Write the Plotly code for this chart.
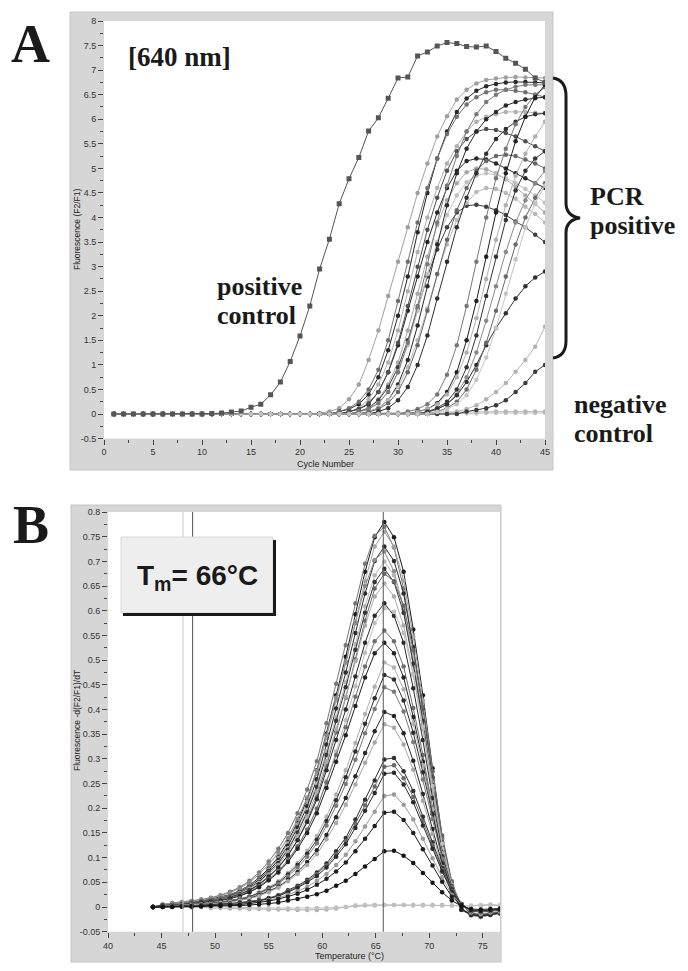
import plotly.graph_objects as go

W, H = 688, 971


def px(x):
    return x / W


def py(y):
    return 1 - y / H


# ---------------- Panel A: amplification curves (640 nm) ----------------
cycles = list(range(1, 46))

pos_control = [0, 0, 0, 0, 0, 0, 0, 0, 0, 0,
               0.01, 0.02, 0.04, 0.06, 0.14, 0.20, 0.39, 0.65, 1.07, 1.59,
               2.20, 2.95, 3.56, 4.28, 4.79, 5.22, 5.76, 6.03, 6.43, 6.84,
               6.86, 7.29, 7.37, 7.49, 7.56, 7.54, 7.48, 7.47, 7.49, 7.38,
               7.24, 7.14, 7.02, 6.84, 6.75]

a_e1 = [0, 0, 0, 0, 0, 0, 0, 0, 0, 0, 0, 0, 0, 0, 0, 0, 0, 0, 0, 0, 0,
        .02, .05, .12, .3, .6, 1.1, 1.7, 2.4, 3.1, 3.8, 4.5, 5.1, 5.65, 6.06, 6.4, 6.6, 6.73, 6.8, 6.83, 6.85, 6.86, 6.85, 6.85, 6.84]
a_e2 = [0, 0, 0, 0, 0, 0, 0, 0, 0, 0, 0, 0, 0, 0, 0, 0, 0, 0, 0, 0, 0, 0, 0,
        .05, .1, .2, .4, .75, 1.3, 2.0, 2.8, 3.7, 4.5, 5.2, 5.75, 6.15, 6.42, 6.58, 6.67, 6.72, 6.75, 6.76, 6.76, 6.75, 6.74]
a_e3 = [0, 0, 0, 0, 0, 0, 0, 0, 0, 0, 0, 0, 0, 0, 0, 0, 0, 0, 0, 0, 0, 0, 0,
        .05, .12, .25, .5, .9, 1.5, 2.3, 3.1, 3.9, 4.6, 5.2, 5.7, 6.05, 6.3, 6.45, 6.55, 6.6, 6.6, 6.58, 6.55, 6.5, 6.45]
a_e4 = [0, 0, 0, 0, 0, 0, 0, 0, 0, 0, 0, 0, 0, 0, 0, 0, 0, 0, 0, 0, 0, 0, 0, 0,
        .05, .12, .3, .6, 1.05, 1.7, 2.5, 3.3, 4.0, 4.6, 5.1, 5.45, 5.75, 5.95, 6.05, 6.1, 6.15, 6.15, 6.15, 6.13, 6.12]
a_e5 = [0, 0, 0, 0, 0, 0, 0, 0, 0, 0, 0, 0, 0, 0, 0, 0, 0, 0, 0, 0, 0, 0, 0, 0,
        .05, .1, .2, .45, .85, 1.4, 2.1, 2.8, 3.5, 4.1, 4.6, 4.95, 5.15, 5.2, 5.18, 5.1, 5.0, 4.9, 4.8, 4.7, 4.6]
a_e6 = [0, 0, 0, 0, 0, 0, 0, 0, 0, 0, 0, 0, 0, 0, 0, 0, 0, 0, 0, 0, 0, 0, 0, 0,
        .05, .1, .22, .45, .85, 1.45, 2.2, 3.0, 3.75, 4.4, 4.95, 5.35, 5.6, 5.75, 5.8, 5.78, 5.72, 5.65, 5.55, 5.45, 5.35]
a_e7 = [0, 0, 0, 0, 0, 0, 0, 0, 0, 0, 0, 0, 0, 0, 0, 0, 0, 0, 0, 0, 0, 0, 0, 0, 0,
        .05, .12, .3, .6, 1.05, 1.7, 2.45, 3.2, 3.85, 4.35, 4.7, 4.92, 5.0, 4.98, 4.9, 4.78, 4.62, 4.45, 4.28, 4.1]
a_e8 = [0, 0, 0, 0, 0, 0, 0, 0, 0, 0, 0, 0, 0, 0, 0, 0, 0, 0, 0, 0, 0, 0, 0, 0, 0,
        .05, .12, .28, .55, .95, 1.5, 2.15, 2.8, 3.35, 3.8, 4.1, 4.24, 4.26, 4.22, 4.15, 4.05, 3.92, 3.8, 3.65, 3.5]
a_e9 = [0, 0, 0, 0, 0, 0, 0, 0, 0, 0, 0, 0, 0, 0, 0, 0, 0, 0, 0, 0, 0, 0, 0, 0, 0,
        .04, .1, .22, .45, .85, 1.4, 2.1, 2.85, 3.5, 4.05, 4.45, 4.72, 4.85, 4.9, 4.87, 4.8, 4.7, 4.58, 4.45, 4.3]
a_e10 = [0, 0, 0, 0, 0, 0, 0, 0, 0, 0, 0, 0, 0, 0, 0, 0, 0, 0, 0, 0, 0, 0, 0, 0, 0,
         .05, .1, .22, .45, .85, 1.45, 2.2, 3.05, 3.9, 4.65, 5.25, 5.75, 6.1, 6.35, 6.5, 6.6, 6.66, 6.7, 6.7, 6.7]
a_e11 = [0, 0, 0, 0, 0, 0, 0, 0, 0, 0, 0, 0, 0, 0, 0, 0, 0, 0, 0, 0, 0, 0, 0, 0, 0, 0,
         .05, .12, .28, .6, 1.1, 1.8, 2.6, 3.45, 4.25, 4.9, 5.4, 5.75, 6.0, 6.15, 6.28, 6.35, 6.4, 6.43, 6.45]
a_e12 = [0, 0, 0, 0, 0, 0, 0, 0, 0, 0, 0, 0, 0, 0, 0, 0, 0, 0, 0, 0, 0, 0, 0, 0, 0, 0,
         .05, .12, .28, .55, .95, 1.5, 2.15, 2.85, 3.45, 3.95, 4.3, 4.52, 4.6, 4.58, 4.5, 4.38, 4.22, 4.07, 3.9]
a_e13 = [0, 0, 0, 0, 0, 0, 0, 0, 0, 0, 0, 0, 0, 0, 0, 0, 0, 0, 0, 0, 0, 0, 0, 0, 0, 0,
         .04, .1, .22, .45, .85, 1.4, 2.1, 2.85, 3.55, 4.15, 4.6, 4.95, 5.15, 5.25, 5.28, 5.25, 5.18, 5.1, 5.0]
a_e14 = [0, 0, 0, 0, 0, 0, 0, 0, 0, 0, 0, 0, 0, 0, 0, 0, 0, 0, 0, 0, 0, 0, 0, 0, 0, 0, 0,
         .05, .12, .28, .55, 1.0, 1.6, 2.35, 3.1, 3.8, 4.4, 4.9, 5.3, 5.6, 5.8, 5.95, 6.05, 6.1, 6.12]
a_l1 = [0, 0, 0, 0, 0, 0, 0, 0, 0, 0, 0, 0, 0, 0, 0, 0, 0, 0, 0, 0, 0, 0, 0, 0, 0, 0, 0, 0, 0, 0,
        .05, .1, .2, .4, .8, 1.4, 2.2, 3.1, 4.0, 4.8, 5.4, 5.9, 6.25, 6.5, 6.65]
a_l2 = [0, 0, 0, 0, 0, 0, 0, 0, 0, 0, 0, 0, 0, 0, 0, 0, 0, 0, 0, 0, 0, 0, 0, 0, 0, 0, 0, 0, 0, 0, 0,
        .05, .1, .22, .45, .85, 1.5, 2.3, 3.2, 4.1, 4.9, 5.55, 6.05, 6.45, 6.7]
a_l3 = [0, 0, 0, 0, 0, 0, 0, 0, 0, 0, 0, 0, 0, 0, 0, 0, 0, 0, 0, 0, 0, 0, 0, 0, 0, 0, 0, 0, 0, 0, 0,
        .04, .1, .2, .4, .75, 1.25, 1.95, 2.75, 3.55, 4.25, 4.85, 5.3, 5.65, 5.95]
a_l4 = [0, 0, 0, 0, 0, 0, 0, 0, 0, 0, 0, 0, 0, 0, 0, 0, 0, 0, 0, 0, 0, 0, 0, 0, 0, 0, 0, 0, 0, 0, 0, 0,
        .05, .12, .25, .5, .95, 1.6, 2.4, 3.2, 3.95, 4.55, 4.95, 5.2, 5.35]
a_l5 = [0, 0, 0, 0, 0, 0, 0, 0, 0, 0, 0, 0, 0, 0, 0, 0, 0, 0, 0, 0, 0, 0, 0, 0, 0, 0, 0, 0, 0, 0, 0, 0,
        .05, .1, .2, .4, .75, 1.25, 1.9, 2.6, 3.3, 3.9, 4.35, 4.7, 4.95]
a_l6 = [0, 0, 0, 0, 0, 0, 0, 0, 0, 0, 0, 0, 0, 0, 0, 0, 0, 0, 0, 0, 0, 0, 0, 0, 0, 0, 0, 0, 0, 0, 0, 0,
        .04, .1, .2, .38, .65, 1.0, 1.4, 1.75, 2.05, 2.35, 2.6, 2.78, 2.9]
a_l7 = [0, 0, 0, 0, 0, 0, 0, 0, 0, 0, 0, 0, 0, 0, 0, 0, 0, 0, 0, 0, 0, 0, 0, 0, 0, 0, 0, 0, 0, 0, 0, 0, 0, 0, 0,
        .05, .1, .18, .3, .45, .63, .86, 1.1, 1.37, 1.78]
a_l8 = [0, 0, 0, 0, 0, 0, 0, 0, 0, 0, 0, 0, 0, 0, 0, 0, 0, 0, 0, 0, 0, 0, 0, 0, 0, 0, 0, 0, 0, 0, 0, 0, 0, 0, 0, 0,
        .05, .08, .12, .18, .28, .45, .63, .86, 1.0]
a_l9 = [0, 0, 0, 0, 0, 0, 0, 0, 0, 0, 0, 0, 0, 0, 0, 0, 0, 0, 0, 0, 0, 0, 0, 0, 0, 0, 0, 0, 0, 0, 0, 0, 0,
        .05, .12, .25, .5, .9, 1.45, 2.1, 2.8, 3.45, 4.0, 4.4, 4.7]
a_l10 = [0, 0, 0, 0, 0, 0, 0, 0, 0, 0, 0, 0, 0, 0, 0, 0, 0, 0, 0, 0, 0, 0, 0, 0, 0, 0, 0, 0, 0, 0, 0, 0, 0,
         .04, .1, .2, .38, .7, 1.15, 1.75, 2.45, 3.15, 3.8, 4.3, 4.65]
a_neg1 = [0, 0, 0, 0, 0, 0, 0, 0, 0, 0, 0, 0, 0, 0, 0, 0, 0, 0, 0, 0, 0, 0, 0, 0, 0,
          .01, .02, .02, .02, .03, .03, .03, .03, .04, .04, .04, .04, .04, .05, .05, .05, .05, .05, .05, .05]
a_neg2 = [0, 0, 0, 0, 0, 0, 0, 0, 0, 0, 0, 0, 0, 0, 0, 0, 0, 0, 0, 0, 0, 0, 0, 0, 0, 0, 0, 0, 0, 0,
          .01, .01, .01, .01, .01, .01, .01, .01, .02, .02, .02, .02, .02, .02, .02]

a_ticks_x = [0, 5, 10, 15, 20, 25, 30, 35, 40, 45]
a_minor_x = [2.5, 7.5, 12.5, 17.5, 22.5, 27.5, 32.5, 37.5, 42.5]
a_ticks_y = [-0.5, 0, 0.5, 1, 1.5, 2, 2.5, 3, 3.5, 4, 4.5, 5, 5.5, 6, 6.5, 7, 7.5, 8]
a_ticktext_y = ["-0.5", "0", "0.5", "1", "1.5", "2", "2.5", "3", "3.5", "4", "4.5", "5",
                "5.5", "6", "6.5", "7", "7.5", "8"]
a_minor_y = [-0.25, 0.25, 0.75, 1.25, 1.75, 2.25, 2.75, 3.25, 3.75, 4.25, 4.75, 5.25,
             5.75, 6.25, 6.75, 7.25, 7.75]

# ---------------- Panel B: melting curves ----------------
temps = [44.2, 45.1, 46.0, 46.9, 47.8, 48.7, 49.6, 50.5, 51.4, 52.3, 53.2, 54.1, 55.0,
         55.9, 56.8, 57.7, 58.6, 59.5, 60.4, 61.3, 62.2, 63.1, 64.0, 64.9, 65.8, 66.7,
         67.6, 68.5, 69.4, 70.3, 71.2, 72.1, 73.0, 73.9, 74.8, 75.7, 76.6]

b_1 = [0, .004, .006, .008, .010, .012, .016, .020, .025, .033, .044, .059, .078, .101, .133, .172, .218, .277, .351, .429,
       .507, .593, .679, .749, .780, .749, .679, .562, .429, .281, .140, .047, -.005, -.015, -.018, -.015, -.012]
b_2 = [0, .005, .008, .010, .012, .015, .019, .024, .031, .040, .053, .070, .092, .118, .150, .190, .238, .295, .372, .452,
       .530, .615, .695, .752, .770, .728, .645, .525, .395, .255, .125, .040, -.006, -.016, -.02, -.016, -.013]
b_3 = [0, .004, .006, .008, .010, .012, .015, .019, .024, .032, .043, .057, .076, .099, .129, .167, .213, .270, .342, .418,
       .494, .578, .661, .730, .760, .730, .661, .547, .418, .274, .137, .046, -.004, -.014, -.017, -.014, -.011]
b_4 = [0, .004, .006, .007, .009, .012, .015, .018, .023, .031, .041, .055, .073, .095, .124, .161, .204, .259, .329, .402,
       .475, .555, .635, .701, .730, .701, .635, .526, .402, .263, .131, .044, -.005, -.016, -.018, -.015, -.012]
b_5 = [0, .005, .008, .010, .012, .015, .018, .023, .029, .038, .050, .066, .086, .110, .140, .178, .222, .276, .348, .424,
       .497, .575, .650, .703, .720, .680, .603, .490, .370, .238, .117, .038, -.006, -.017, -.02, -.016, -.013]
b_6 = [0, .004, .006, .007, .009, .011, .014, .018, .022, .029, .039, .053, .070, .091, .119, .154, .196, .249, .315, .385,
       .455, .532, .609, .672, .700, .672, .609, .504, .385, .252, .126, .042, -.004, -.014, -.017, -.014, -.011]
b_7 = [0, .003, .005, .007, .009, .011, .014, .017, .022, .029, .038, .051, .069, .089, .116, .151, .192, .243, .308, .377,
       .445, .521, .596, .658, .685, .658, .596, .493, .377, .247, .123, .041, -.005, -.015, -.018, -.015, -.012]
b_8 = [0, .003, .005, .006, .008, .010, .012, .015, .019, .025, .033, .045, .060, .079, .104, .136, .175, .224, .286, .354,
       .424, .502, .580, .645, .675, .660, .610, .520, .405, .275, .145, .052, -.003, -.014, -.018, -.015, -.012]
b_9 = [0, .003, .005, .007, .009, .010, .013, .016, .021, .028, .037, .049, .066, .085, .111, .144, .183, .233, .295, .360,
       .426, .498, .570, .629, .655, .629, .570, .472, .360, .236, .118, .039, -.004, -.014, -.017, -.014, -.011]
b_10 = [0, .003, .005, .006, .008, .010, .012, .015, .020, .026, .034, .046, .062, .080, .105, .135, .172, .218, .277, .338,
        .400, .467, .535, .590, .615, .590, .535, .443, .338, .221, .111, .037, -.005, -.015, -.018, -.015, -.012]
b_11 = [0, .003, .005, .006, .007, .009, .011, .014, .018, .023, .030, .040, .054, .071, .093, .121, .156, .200, .255, .315,
        .378, .447, .515, .575, .605, .598, .555, .470, .365, .245, .128, .045, -.003, -.013, -.017, -.014, -.011]
b_12 = [0, .003, .004, .006, .007, .009, .011, .014, .018, .024, .031, .042, .056, .073, .095, .123, .157, .199, .252, .308,
        .364, .426, .487, .538, .560, .538, .487, .403, .308, .202, .101, .034, -.004, -.014, -.017, -.014, -.011]
b_13 = [0, .003, .004, .005, .007, .009, .011, .013, .017, .022, .030, .040, .054, .070, .091, .118, .150, .190, .241, .294,
        .348, .407, .465, .514, .535, .514, .465, .385, .294, .193, .096, .032, -.005, -.015, -.018, -.015, -.012]
b_14 = [0, .002, .003, .004, .005, .006, .008, .010, .013, .017, .022, .030, .040, .052, .069, .089, .114, .144, .183, .228,
        .277, .332, .391, .446, .495, .485, .441, .371, .287, .198, .109, .045, .005, -.012, -.015, -.012, -.01]
b_15 = [0, .002, .003, .004, .005, .006, .008, .010, .013, .016, .021, .028, .038, .049, .066, .085, .108, .136, .174, .216,
        .263, .315, .371, .423, .470, .461, .418, .353, .273, .188, .103, .042, .005, -.013, -.016, -.013, -.01]
b_16 = [0, .002, .003, .004, .005, .006, .008, .009, .012, .016, .020, .027, .036, .047, .062, .080, .102, .129, .165, .205,
        .249, .298, .352, .401, .445, .436, .396, .334, .258, .178, .098, .040, .004, -.012, -.015, -.012, -.01]
b_17 = [0, .002, .002, .003, .004, .005, .007, .008, .011, .014, .018, .024, .032, .041, .055, .071, .091, .115, .146, .182,
        .221, .265, .312, .356, .395, .387, .352, .296, .229, .158, .087, .036, .004, -.012, -.015, -.012, -.01]
b_18 = [0, .001, .002, .003, .004, .005, .006, .008, .010, .013, .017, .022, .030, .039, .052, .067, .085, .107, .137, .170,
        .207, .248, .292, .333, .370, .363, .329, .278, .215, .148, .081, .033, .004, -.011, -.014, -.011, -.009]
b_19 = [0, .001, .001, .002, .002, .003, .004, .005, .007, .009, .011, .014, .018, .024, .034, .043, .055, .070, .088, .113,
        .140, .177, .217, .256, .299, .302, .275, .235, .183, .131, .079, .034, .006, -.008, -.01, -.008, -.006]
b_20 = [0, .001, .001, .002, .002, .003, .004, .005, .006, .008, .010, .013, .017, .023, .032, .041, .052, .067, .084, .107,
        .133, .168, .206, .244, .284, .287, .261, .223, .174, .125, .075, .032, .006, -.008, -.01, -.008, -.006]
b_21 = [0, .001, .001, .002, .002, .003, .004, .005, .006, .008, .010, .012, .017, .022, .030, .039, .050, .063, .080, .102,
        .127, .160, .195, .231, .270, .272, .248, .212, .165, .118, .072, .030, .006, -.008, -.01, -.008, -.006]
b_22 = [0, 0, .001, .001, .002, .002, .003, .004, .005, .006, .008, .010, .014, .018, .025, .032, .041, .053, .067, .085,
        .106, .133, .163, .193, .225, .228, .207, .177, .138, .099, .060, .025, .005, -.007, -.009, -.007, -.005]
b_23 = [0, 0, .001, .001, .002, .002, .003, .004, .004, .005, .007, .009, .012, .016, .021, .027, .035, .045, .057, .072,
        .090, .113, .138, .164, .191, .193, .176, .150, .117, .084, .051, .021, .004, -.006, -.008, -.006, -.005]
b_24 = [0, 0, 0, .001, .001, .001, .002, .002, .003, .003, .004, .005, .007, .009, .013, .016, .021, .026, .033, .043,
        .053, .067, .082, .097, .113, .114, .104, .089, .069, .049, .030, .013, .002, -.004, -.005, -.004, -.003]
b_neg1 = [0, 0, .001, 0, -.001, 0, -.002, -.002, -.003, -.003, -.004, -.004, -.005, -.005, -.005, -.006, -.006, -.006, -.005, -.003,
          0, .003, .004, .004, .004, .004, .004, .004, .004, .004, .004, .003, .002, .002, .003, .004, .002]
b_neg2 = [0, .001, 0, .001, 0, .001, 0, .001, 0, 0, -.001, -.002, -.002, -.003, -.003, -.003, -.003, -.002, -.002, -.001,
          0, .002, .003, .003, .004, .004, .004, .003, .003, .003, .003, .003, .002, .003, .004, .005, .004]

b_ticks_x = [40, 45, 50, 55, 60, 65, 70, 75]
b_minor_x = [42.5, 47.5, 52.5, 57.5, 62.5, 67.5, 72.5]
b_ticks_y = [-0.05, 0, 0.05, 0.1, 0.15, 0.2, 0.25, 0.3, 0.35, 0.4, 0.45, 0.5, 0.55, 0.6, 0.65, 0.7, 0.75, 0.8]
b_ticktext_y = ["-0.05", "0", "0.05", "0.1", "0.15", "0.2", "0.25", "0.3", "0.35", "0.4", "0.45", "0.5",
                "0.55", "0.6", "0.65", "0.7", "0.75", "0.8"]
b_minor_y = [-0.025, 0.025, 0.075, 0.125, 0.175, 0.225, 0.275, 0.325, 0.375, 0.425, 0.475, 0.525,
             0.575, 0.625, 0.675, 0.725, 0.775]
b_marker_lines = [47.0, 47.9, 65.7]

# ---------------- Build figure ----------------
fig = go.Figure()

a_series = [
    (a_neg2, "#c8c8c8"), (a_neg1, "#b4b4b4"),
    (a_e1, "#a0a0a0"), (a_e2, "#2a2a2a"), (a_e3, "#707070"), (a_e4, "#b0b0b0"),
    (a_e5, "#262626"), (a_e6, "#505050"), (a_e7, "#a8a8a8"), (a_e8, "#404040"),
    (a_e9, "#c0c0c0"), (a_e10, "#787878"), (a_e11, "#2a2a2a"), (a_e12, "#b8b8b8"),
    (a_e13, "#686868"), (a_e14, "#303030"),
    (a_l1, "#787878"), (a_l2, "#202020"), (a_l3, "#b0b0b0"), (a_l4, "#353535"),
    (a_l5, "#8a8a8a"), (a_l6, "#303030"), (a_l7, "#b4b4b4"), (a_l8, "#3a3a3a"),
    (a_l9, "#6a6a6a"), (a_l10, "#c4c4c4"),
]
for vals, col in a_series:
    fig.add_trace(go.Scatter(
        x=cycles, y=vals, mode="lines+markers", xaxis="x", yaxis="y",
        line=dict(color=col, width=1), marker=dict(size=4.5, color=col, symbol="circle"),
        showlegend=False, hoverinfo="skip"))

fig.add_trace(go.Scatter(
    x=cycles, y=pos_control, mode="lines+markers", xaxis="x", yaxis="y",
    line=dict(color="#555555", width=1), marker=dict(size=5, color="#555555", symbol="square"),
    showlegend=False, hoverinfo="skip"))

b_series = [
    (b_neg1, "#b0b0b0"), (b_neg2, "#c0c0c0"),
    (b_1, "#1a1a1a"), (b_2, "#777777"), (b_3, "#a5a5a5"), (b_4, "#2b2b2b"), (b_5, "#8c8c8c"),
    (b_6, "#b5b5b5"), (b_7, "#333333"), (b_8, "#666666"), (b_9, "#aaaaaa"), (b_10, "#2a2a2a"),
    (b_11, "#bdbdbd"), (b_12, "#6e6e6e"), (b_13, "#222222"), (b_14, "#b0b0b0"), (b_15, "#2e2e2e"),
    (b_16, "#7a7a7a"), (b_17, "#262626"), (b_18, "#a8a8a8"), (b_19, "#303030"), (b_20, "#6a6a6a"),
    (b_21, "#2a2a2a"), (b_22, "#9a9a9a"), (b_23, "#1e1e1e"), (b_24, "#151515"),
]
for vals, col in b_series:
    fig.add_trace(go.Scatter(
        x=temps, y=vals, mode="lines+markers", xaxis="x2", yaxis="y2",
        line=dict(color=col, width=1), marker=dict(size=4.5, color=col, symbol="circle"),
        showlegend=False, hoverinfo="skip"))

tickfont = dict(family="Liberation Sans, Arial, sans-serif", size=9, color="#333333")
axis_common = dict(showgrid=False, zeroline=False, showline=False, ticks="outside",
                   ticklen=5, tickwidth=1, tickcolor="#444444", tickfont=tickfont,
                   automargin=False, fixedrange=True)

fig.update_layout(
    width=W, height=H, template="none",
    margin=dict(l=0, r=0, t=0, b=0),
    paper_bgcolor="white", plot_bgcolor="white",
    font=dict(family="Liberation Sans, Arial, sans-serif", color="#222222"),
    xaxis=dict(domain=[px(104), px(545)], range=[0, 45], anchor="y",
               tickmode="array", tickvals=a_ticks_x,
               minor=dict(tickmode="array", tickvals=a_minor_x, ticks="outside", ticklen=3, tickcolor="#444444"),
               **axis_common),
    yaxis=dict(domain=[py(438.6), py(21)], range=[-0.5, 8], anchor="x",
               tickmode="array", tickvals=a_ticks_y, ticktext=a_ticktext_y,
               minor=dict(tickmode="array", tickvals=a_minor_y, ticks="outside", ticklen=3, tickcolor="#444444"),
               **axis_common),
    xaxis2=dict(domain=[px(108), px(500)], range=[40, 76.6], anchor="y2",
                tickmode="array", tickvals=b_ticks_x,
                minor=dict(tickmode="array", tickvals=b_minor_x, ticks="outside", ticklen=3, tickcolor="#444444"),
                **axis_common),
    yaxis2=dict(domain=[py(931.7), py(512)], range=[-0.05, 0.8], anchor="x2",
                tickmode="array", tickvals=b_ticks_y, ticktext=b_ticktext_y,
                minor=dict(tickmode="array", tickvals=b_minor_y, ticks="outside", ticklen=3, tickcolor="#444444"),
                **axis_common),
)

shapes = []
# gray instrument frames
shapes.append(dict(type="rect", xref="paper", yref="paper", x0=px(70), x1=px(553), y0=py(470), y1=py(12),
                   fillcolor="#d6d6d6", line=dict(color="#c4c4c4", width=1), layer="below"))
shapes.append(dict(type="rect", xref="paper", yref="paper", x0=px(104), x1=px(545), y0=py(438.6), y1=py(21),
                   fillcolor="white", line=dict(width=0), layer="below"))
shapes.append(dict(type="rect", xref="paper", yref="paper", x0=px(71), x1=px(501), y0=py(962), y1=py(505),
                   fillcolor="#d6d6d6", line=dict(color="#c4c4c4", width=1), layer="below"))
shapes.append(dict(type="rect", xref="paper", yref="paper", x0=px(108), x1=px(500), y0=py(931.7), y1=py(512),
                   fillcolor="white", line=dict(width=0), layer="below"))
# vertical cursor lines in panel B
for xv, col in zip(b_marker_lines, ["#c8c8c8", "#555555", "#555555"]):
    shapes.append(dict(type="line", xref="x2", yref="y2 domain", x0=xv, x1=xv, y0=0, y1=1,
                       line=dict(color=col, width=1), layer="above"))
# Tm box with shadow
shapes.append(dict(type="rect", xref="paper", yref="paper", x0=px(121), x1=px(273), y0=py(613), y1=py(537),
                   fillcolor="#eeeeee", line=dict(color="#d8d8d8", width=1), layer="above"))
shapes.append(dict(type="rect", xref="paper", yref="paper", x0=px(273), x1=px(276), y0=py(616), y1=py(540),
                   fillcolor="#1a1a1a", line=dict(width=0), layer="above"))
shapes.append(dict(type="rect", xref="paper", yref="paper", x0=px(123), x1=px(276), y0=py(616), y1=py(613),
                   fillcolor="#1a1a1a", line=dict(width=0), layer="above"))
# curly brace for "PCR positive"
brace = (f"M {px(553)},{py(78)} Q {px(566)},{py(80)} {px(566)},{py(96)} "
         f"L {px(566)},{py(203)} Q {px(566)},{py(216)} {px(580)},{py(218)} "
         f"Q {px(566)},{py(220)} {px(566)},{py(233)} "
         f"L {px(566)},{py(341)} Q {px(566)},{py(356)} {px(553)},{py(358)}")
shapes.append(dict(type="path", xref="paper", yref="paper", path=brace,
                   line=dict(color="#1a1a1a", width=3), layer="above"))
fig.update_layout(shapes=shapes)

serif = "Liberation Serif, Times New Roman, serif"
sans = "Liberation Sans, Arial, sans-serif"
ann = []


def label(text, x, y, size, family=serif, xanchor="left", angle=0, color="#1a1a1a"):
    ann.append(dict(text=text, x=px(x), y=py(y), xref="paper", yref="paper", showarrow=False,
                    xanchor=xanchor, yanchor="middle", textangle=angle, borderpad=0,
                    font=dict(family=family, size=size, color=color)))


label("<b>A</b>", 31, 44, 54, xanchor="center")
label("<b>B</b>", 31, 525, 54, xanchor="center")
label("<b>[640 nm]</b>", 127, 57, 27)
label("<b>positive</b>", 216, 286, 26)
label("<b>control</b>", 216, 315, 26)
label("<b>PCR</b>", 589, 196, 26)
label("<b>positive</b>", 589, 225, 26)
label("<b>negative</b>", 573, 404, 26)
label("<b>control</b>", 573, 433, 26)
label("<b>T<sub>m</sub>= 66°C</b>", 197, 577, 28, family=sans, xanchor="center")
label("Cycle Number", 325, 464, 9, family=sans, xanchor="center", color="#222222")
label("Temperature (°C)", 349, 956, 9, family=sans, xanchor="center", color="#222222")
label("Fluorescence (F2/F1)", 77, 230, 8.5, family=sans, xanchor="center", angle=-90, color="#222222")
label("Fluorescence -d(F2/F1)/dT", 77, 721, 8.5, family=sans, xanchor="center", angle=-90, color="#222222")
fig.update_layout(annotations=ann)

fig.write_html("out.html", config={"displayModeBar": False, "staticPlot": True},
               post_script="document.body.style.margin='0';document.body.style.overflow='hidden';")
